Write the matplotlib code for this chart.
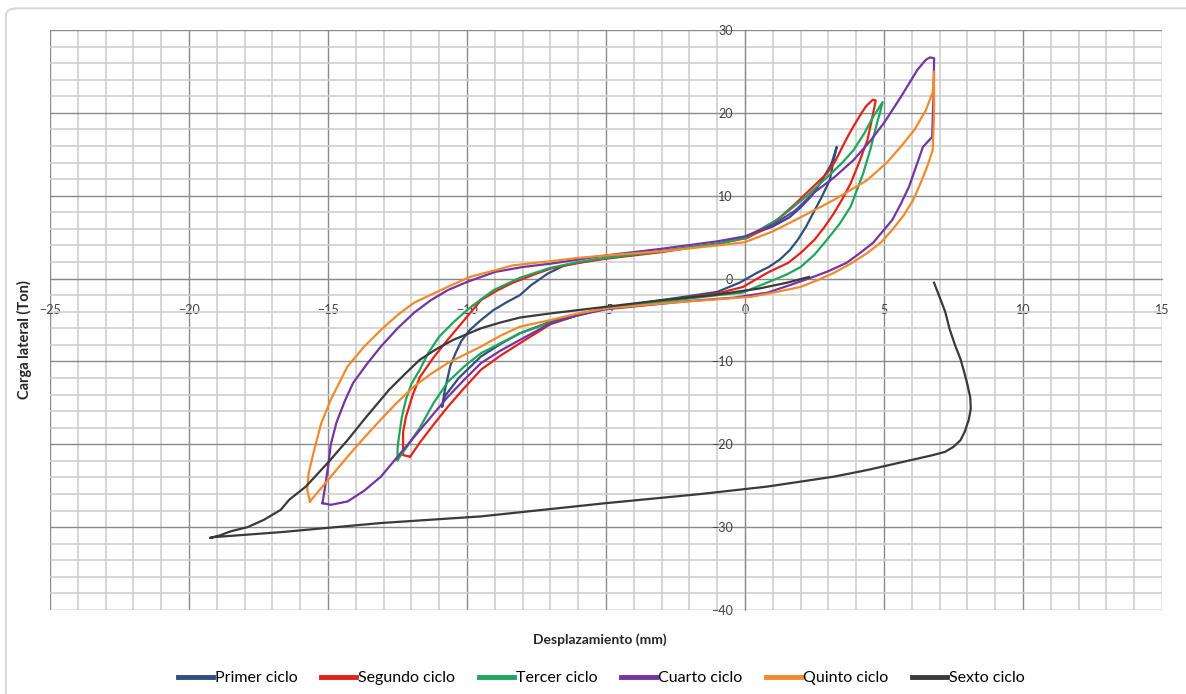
import matplotlib.pyplot as plt
from matplotlib.patches import FancyBboxPatch
from matplotlib.ticker import MultipleLocator

plt.rcParams['font.family'] = ['Lato', 'DejaVu Sans']

# Primer ciclo
x1 = [-6.5, -5, -3, -1, 0, 1, 1.6, 2, 2.4, 2.7, 3.1, 3.3, 3.2, 3.05, 2.75, 2.45, 2.2, 1.9, 1.6,
      1.25, 0.85, 0.43, -0.2, -1, -3, -5, -6, -7, -8.1, -8.8, -9.5, -10.3, -10.8, -10.9, -10.8,
      -10.6, -10.4, -10.2, -9.9, -9.5, -9.05, -8.6, -8.1, -7.7, -7.1, -6.5]
y1 = [1.6, 2.5, 3.3, 4.2, 5.0, 6.3, 7.4, 8.6, 10.0, 11.5, 13.8, 15.9, 14.5, 11.9, 9.8, 7.9, 6.3, 4.7, 3.4,
      2.3, 1.4, 0.7, -0.5, -1.6, -2.6, -3.6, -4.3, -5.2, -6.6, -7.9, -9.4, -12.0, -14.2, -15.5, -13.5,
      -10.5, -8.9, -7.5, -6.2, -5.0, -3.8, -2.9, -2.0, -0.8, 0.6, 1.6]

# Segundo ciclo
x2 = [-12.05, -12.3, -12.3, -12.3, -12.2, -11.95, -11.7, -11.2, -10.7, -10.1, -9.5, -8.9, -8.35,
      -7.5, -7, -6, -5, -3, -1, 0.07, 0.7, 1.26, 1.8, 2.2, 2.95, 3.25, 3.5, 3.8, 4.1, 4.35, 4.6, 4.7,
      4.55, 4.4, 4.1, 3.8, 3.5, 3.2, 2.85, 2.5, 2.0, 1.55, 0.8, -0.07, -1, -3, -5, -6, -7, -8.1,
      -8.8, -9.5, -10.1, -10.7, -11.2, -11.7, -12.05]
y2 = [-21.5, -21.3, -20.7, -18.5, -16.7, -14.0, -11.9, -9.5, -7.4, -5.0, -2.6, -1.4, -0.5,
      0.6, 1.2, 1.9, 2.4, 3.2, 4.2, 4.9, 6.0, 7.4, 9.0, 10.3, 12.7, 14.2, 15.9, 17.8, 19.5, 20.8, 21.6, 21.5,
      19.0, 16.7, 14.0, 11.5, 9.6, 7.9, 6.2, 4.7, 3.1, 1.9, 0.7, -1.0, -1.8, -2.7, -3.6, -4.4, -5.5, -7.8,
      -9.3, -11.0, -13.2, -15.5, -17.6, -19.8, -21.5]

# Tercer ciclo
x3 = [-12.5, -12.5, -12.45, -12.35, -12.2, -12.0, -11.7, -11.4, -11.0, -10.5, -10.0, -9.5, -9.05,
      -8.1, -7, -6, -5, -3, -1, 0, 1.2, 2.2, 3.0, 3.5, 3.9, 4.3, 4.6, 4.95, 4.85, 4.75, 4.5, 4.25,
      3.8, 3.4, 2.95, 2.5, 2.0, 1.5, 1.0, -0.1, -1, -3, -5, -7, -8.1, -9.5, -10.1, -10.7, -11.2,
      -11.7, -12.1, -12.5]
y3 = [-21.9, -20.5, -19.1, -16.8, -14.6, -12.7, -11.0, -9.0, -7.0, -5.3, -3.8, -2.5, -1.4,
      0.1, 1.3, 2.0, 2.5, 3.3, 4.2, 4.9, 7.2, 9.9, 12.4, 14.0, 15.5, 17.6, 19.5, 21.3, 20.0, 18.8, 15.5, 12.7,
      8.7, 6.6, 4.7, 2.9, 1.4, 0.5, -0.2, -1.7, -2.0, -2.8, -3.6, -5.3, -6.6, -9.0, -10.6, -12.5, -15.0,
      -18.0, -20.0, -21.9]

# Cuarto ciclo
x4 = [-15.2, -15.1, -15.0, -14.9, -14.7, -14.4, -14.1, -13.6, -13.1, -12.5, -11.9, -11.3, -10.7,
      -10.0, -9, -8, -7, -5, -3, -1, 0, 1, 1.8, 2.45, 3.2, 3.9, 4.5, 5.0, 5.6, 6.2, 6.5, 6.65, 6.8,
      6.78, 6.73, 6.4, 6.15, 5.9, 5.6, 5.3, 4.6, 4.1, 3.65, 3.0, 2.45, 1.6, 0.8, -0.4, -2, -5, -6,
      -7, -8.1, -8.8, -9.5, -10.1, -10.7, -11.3, -11.9, -12.5, -13.1, -13.7, -14.3, -14.9, -15.2]
y4 = [-27.1, -25.0, -22.7, -20.0, -17.4, -14.8, -12.6, -10.3, -8.2, -6.0, -4.1, -2.6, -1.4,
      -0.4, 0.8, 1.4, 1.8, 2.8, 3.6, 4.5, 5.1, 6.5, 8.2, 10.3, 12.2, 14.3, 16.6, 18.8, 21.9, 25.2, 26.4, 26.7, 26.6,
      22.0, 17.1, 15.9, 13.5, 11.1, 9.0, 7.1, 4.3, 3.0, 1.9, 0.9, 0.2, -0.8, -1.7, -2.3, -2.7, -3.7, -4.4,
      -5.4, -7.4, -8.7, -10.2, -12.2, -14.3, -16.7, -19.1, -21.5, -23.9, -25.6, -26.9, -27.3, -27.1]

# Quinto ciclo
x5 = [-15.65, -15.75, -15.7, -15.5, -15.25, -14.9, -14.3, -13.7, -13.1, -12.5, -11.9, -10.7, -9.9,
      -9, -8.35, -7, -6, -5, -3, -1, 0, 1, 2.0, 3.2, 4.4, 5.1, 5.6, 6.1, 6.5, 6.75, 6.8, 6.8, 6.75,
      6.55, 6.3, 6.05, 5.7, 5.3, 4.9, 4.4, 3.8, 3.2, 2.6, 2.0, 1.0, 0.2, -1, -3, -5, -6, -7, -8.1,
      -8.8, -9.5, -10.7, -11.3, -11.9, -12.5, -13.1, -13.7, -14.3, -14.8, -15.3, -15.65]
y5 = [-26.9, -25.5, -23.5, -20.7, -17.5, -14.6, -10.6, -8.2, -6.2, -4.4, -2.9, -1.0, 0.2,
      1.0, 1.6, 2.1, 2.5, 2.8, 3.3, 4.0, 4.4, 5.7, 7.4, 9.5, 11.9, 14.0, 15.9, 18.0, 20.3, 22.5, 25.0, 20.0, 15.5,
      13.5, 11.4, 9.5, 7.6, 5.9, 4.4, 3.1, 1.8, 0.7, -0.2, -1.0, -1.7, -2.2, -2.5, -3.0, -3.6, -4.2, -5.0, -5.8,
      -6.9, -8.2, -10.2, -11.5, -13.0, -14.9, -17.0, -19.2, -21.5, -23.5, -25.5, -26.9]

# Sexto ciclo
x6 = [6.8, 7.2, 7.35, 7.55, 7.75, 7.9, 8.0, 8.1, 8.12, 8.05, 7.9, 7.75, 7.5, 7.2, 6.76, 5.58, 4.4,
      3.2, 2.0, 0.8, -1.6, -5, -9.5, -13.1, -16.7, -19.1, -19.25, -18.9, -18.5, -17.9, -17.3, -16.7,
      -16.4, -15.8, -15.0, -14.3, -13.7, -12.8, -12.2, -11.7, -11.1, -10.5, -10.0, -9.5, -8.8, -8.1,
      -7, -6, -5.0, -3, -1.15, 0.5, 1.5, 2.3]
y6 = [-0.5, -4.0, -6.0, -8.0, -9.7, -11.5, -12.8, -14.3, -15.7, -17.0, -18.5, -19.5, -20.3, -20.9,
      -21.3, -22.2, -23.1, -23.9, -24.5, -25.1, -26.0, -27.1, -28.7, -29.5, -30.6, -31.2, -31.3, -31.0,
      -30.5, -30.0, -29.1, -27.9, -26.7, -25.1, -22.2, -19.5, -17.0, -13.4, -11.4, -9.8, -8.5, -7.4,
      -6.7, -6.0, -5.3, -4.7, -4.2, -3.8, -3.4, -2.6, -2.0, -1.2, -0.5, 0.2]

names = ['Primer ciclo', 'Segundo ciclo', 'Tercer ciclo', 'Cuarto ciclo', 'Quinto ciclo', 'Sexto ciclo']
colors = ['#2e4f80', '#e2231a', '#1fa65a', '#7334a4', '#f08a2c', '#3a3a3a']
xs = [x1, x2, x3, x4, x5, x6]
ys = [y1, y2, y3, y4, y5, y6]

fig = plt.figure(figsize=(11.86, 6.94), dpi=100)
frame = FancyBboxPatch((0.005, -0.05), 1.05, 1.038, boxstyle='round,pad=0,rounding_size=0.01',
                       transform=fig.transFigure, fc='white', ec='#d9d9d9', lw=1.5, zorder=-10)
fig.patches.append(frame)
ax = fig.add_axes([0.0422, 0.121, 0.9376, 0.8357])
ax.patch.set_alpha(0)

for x, y, c, n in zip(xs, ys, colors, names):
    ax.plot(x, y, color=c, lw=1.6, label=n, zorder=3, solid_joinstyle='round')

ax.set_xlim(-25, 15)
ax.set_ylim(-40, 30)
ax.xaxis.set_major_locator(MultipleLocator(5))
ax.xaxis.set_minor_locator(MultipleLocator(1))
ax.yaxis.set_major_locator(MultipleLocator(10))
ax.yaxis.set_minor_locator(MultipleLocator(2))
ax.grid(which='minor', color='#cfcfcf', lw=1.2)
ax.grid(which='major', color='#8a8a8a', lw=1.0)
ax.set_axisbelow(True)

for s in ['top', 'right']:
    ax.spines[s].set_visible(False)
ax.spines['bottom'].set_position(('data', 0))
ax.spines['left'].set_position(('data', 0))
ax.spines['bottom'].set_color('#8a8a8a')
ax.spines['left'].set_color('#8a8a8a')
ax.tick_params(which='both', length=0, labelsize=9, colors='#404040')
ax.tick_params(axis='x', pad=18)
ax.tick_params(axis='y', pad=9)

fig.text(0.506, 0.078, 'Desplazamiento (mm)', ha='center', va='center', fontsize=10,
         fontweight='bold', color='#262626')
fig.text(0.021, 0.51, 'Carga lateral (Ton)', ha='center', va='center', rotation=90,
         fontsize=10.5, fontweight='bold', color='#262626')

handles, labels = ax.get_legend_handles_labels()
leg = fig.legend(handles, labels, loc='center', bbox_to_anchor=(0.507, 0.023), ncol=6,
                 frameon=False, fontsize=11.5, handlelength=2.2, handletextpad=0.1,
                 columnspacing=1.5)
for h in leg.legend_handles:
    h.set_linewidth(3.5)

fig.savefig('out.png', dpi=100)
